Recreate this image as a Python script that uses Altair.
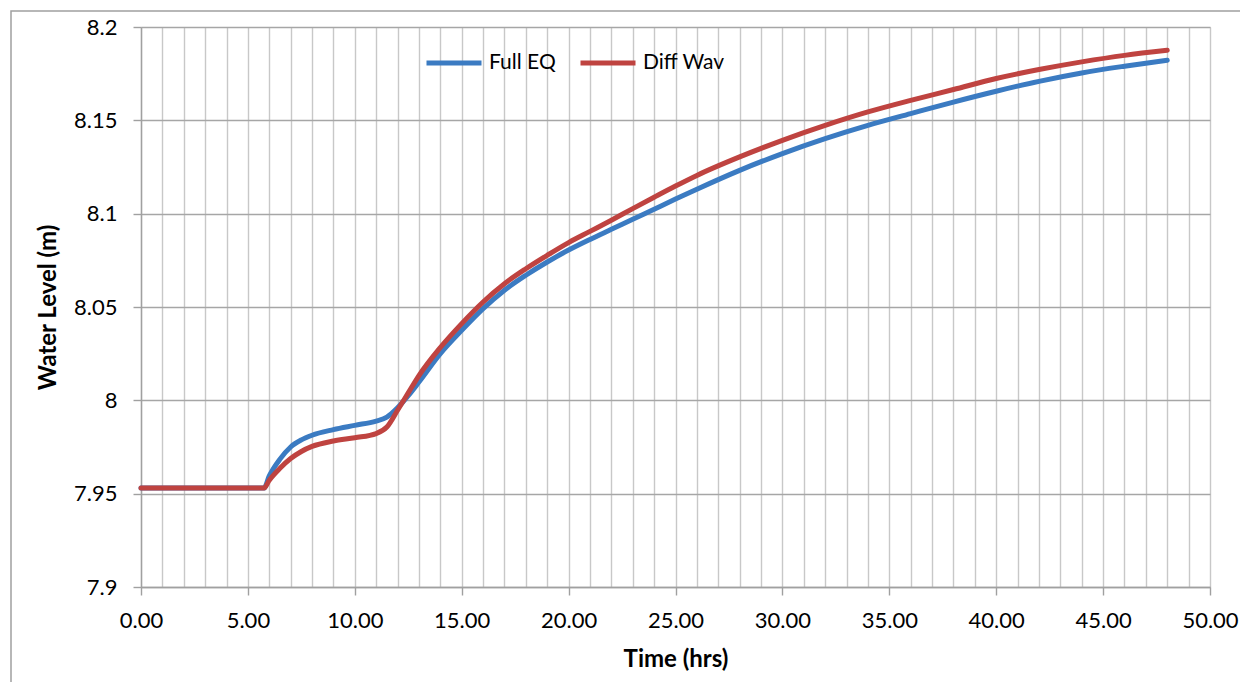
import altair as alt
import pandas as pd

# ---- data ----
time_hrs = [0, 1, 2, 3, 4, 5, 5.75, 6, 6.5, 7, 7.5, 8, 9, 10, 11, 11.5, 12, 12.5, 13,
            14, 15, 16, 17, 18, 19, 20, 21, 22, 23, 24, 25, 26, 28, 30, 32, 34, 36,
            38, 40, 42, 44, 46, 48]

full_eq = [7.953, 7.953, 7.953, 7.953, 7.953, 7.953, 7.953, 7.9595, 7.9685, 7.975,
           7.9788, 7.9813, 7.9843, 7.9866, 7.9889, 7.991, 7.996, 8.0025, 8.0098,
           8.025, 8.0375, 8.0491, 8.059, 8.067, 8.0741, 8.0805, 8.0862, 8.0916,
           8.097, 8.1024, 8.1078, 8.1131, 8.1232, 8.1322, 8.1402, 8.1473, 8.1536,
           8.1598, 8.1656, 8.1709, 8.1754, 8.179, 8.1822]

diff_wav = [7.953, 7.953, 7.953, 7.953, 7.953, 7.953, 7.953, 7.9572, 7.9636, 7.9688,
            7.9726, 7.9753, 7.9782, 7.98, 7.9822, 7.9857, 7.9947, 8.004, 8.0133,
            8.0283, 8.0411, 8.0527, 8.0625, 8.0705, 8.0777, 8.0845, 8.0905, 8.0965,
            8.1027, 8.1088, 8.1148, 8.1205, 8.1304, 8.1393, 8.1473, 8.1545, 8.1607,
            8.1665, 8.1724, 8.1772, 8.1813, 8.1848, 8.1875]

series_names = ["Full EQ", "Diff Wav"]
series_colors = ["#3B7BC2", "#BF4340"]

x_grid_values = list(range(0, 51))
y_tick_values = [7.9, 7.95, 8.0, 8.05, 8.1, 8.15, 8.2]

rows = []
for t, a, b in zip(time_hrs, full_eq, diff_wav):
    rows.append({"t": t, "v": a, "s": series_names[0]})
    rows.append({"t": t, "v": b, "s": series_names[1]})
df = pd.DataFrame(rows)

FONT = "Lato"

x_axis = alt.Axis(
    title="Time (hrs)",
    values=x_grid_values,
    labelExpr="datum.value % 5 === 0 ? format(datum.value, '.2f') : ''",
    labelOverlap=False, labelFlush=False,
    labelFont=FONT, labelFontSize=22, labelColor="#000000", labelPadding=15,
    titleFont=FONT, titleFontSize=24, titleFontWeight="bold", titleColor="#000000",
    titlePadding=16,
    grid=True, gridColor="#C8C8C8", gridWidth=1.4,
    domainColor="#A0A0A0", domainWidth=1.4,
    tickSize=8, tickWidth=1.4,
    tickColor={"condition": {"test": "datum.value % 5 === 0", "value": "#A0A0A0"},
               "value": "transparent"},
)

y_axis = alt.Axis(
    title="Water Level (m)",
    values=y_tick_values,
    format="~g",
    labelOverlap=False, labelFlush=False,
    labelFont=FONT, labelFontSize=22, labelColor="#000000", labelPadding=16,
    titleFont=FONT, titleFontSize=24, titleFontWeight="bold", titleColor="#000000",
    titlePadding=13,
    grid=True, gridColor="#A6A6A6", gridWidth=1.4,
    domainColor="#A0A0A0", domainWidth=1.4,
    tickSize=8, tickWidth=1.4, tickColor="#A0A0A0",
)

lines = alt.Chart(df).mark_line(
    strokeWidth=5, interpolate="monotone", strokeCap="round", strokeJoin="round"
).encode(
    x=alt.X("t:Q", scale=alt.Scale(domain=[0, 50], nice=False), axis=x_axis),
    y=alt.Y("v:Q", scale=alt.Scale(domain=[7.9, 8.2], nice=False, zero=False), axis=y_axis),
    color=alt.Color(
        "s:N",
        scale=alt.Scale(domain=series_names, range=series_colors),
        sort=series_names,
        legend=alt.Legend(
            title=None, orient="none", direction="horizontal",
            legendX=283, legendY=6,
            symbolType="stroke", symbolSize=3025, symbolStrokeWidth=5,
            labelFont=FONT, labelFontSize=21, labelColor="#000000",
            labelOffset=5, columnPadding=14, padding=0,
        ),
    ),
)

frame = alt.Chart(pd.DataFrame({"a": [0]})).mark_rect(
    fill=None, stroke="#A0A0A0", strokeWidth=1.5
).encode(
    x=alt.value(-130), x2=alt.value(1200), y=alt.value(-16), y2=alt.value(700)
)

chart = alt.layer(frame, lines).properties(
    width=1069, height=560,
    autosize=alt.AutoSizeParams(type="none"),
    padding={"left": 133, "top": 19, "right": 30, "bottom": 95},
).configure_view(
    stroke="#C8C8C8", strokeWidth=1.4
).configure(background="white")

chart.save("out.html", embed_options={"renderer": "svg", "actions": False})
